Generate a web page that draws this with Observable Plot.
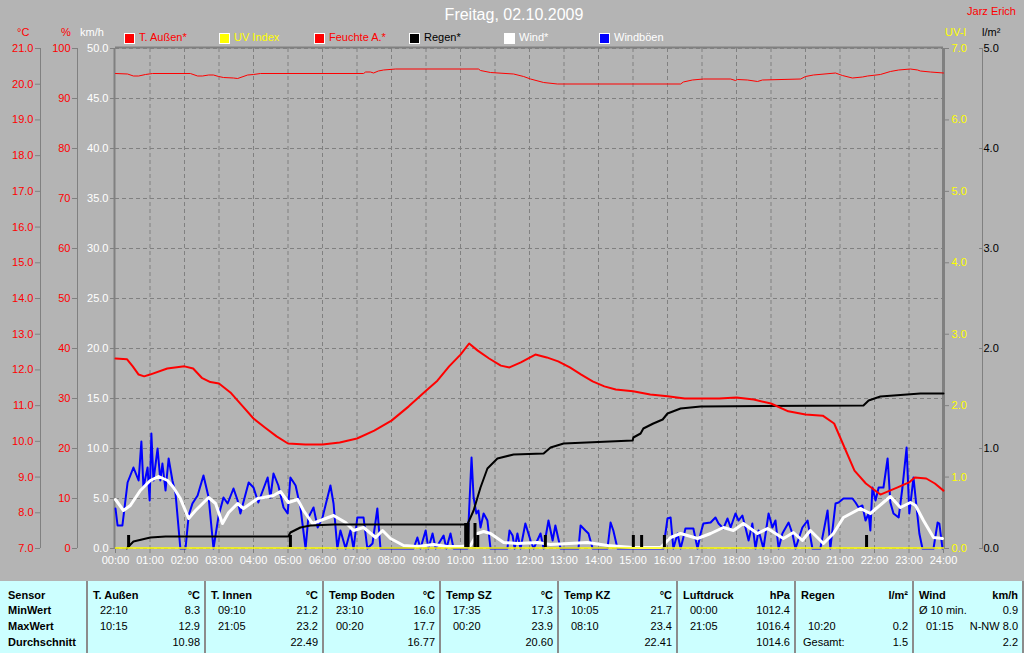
<!DOCTYPE html>
<html><head><meta charset="utf-8">
<script src="https://cdn.jsdelivr.net/npm/d3@7"></script>
<script src="https://cdn.jsdelivr.net/npm/@observablehq/plot@0.6"></script>
<style>
body{margin:0;background:#b4b4b4;font-family:"Liberation Sans",Arial,sans-serif;font-size:11px;}
#wrap{position:relative;width:1024px;height:653px;overflow:hidden;background:#b4b4b4;}
#chart{position:absolute;left:0;top:0;}
.abs{position:absolute;white-space:nowrap;line-height:13px;}
.sq{position:absolute;width:9px;height:9px;border:1px solid #fff;}
#table{position:absolute;left:0;top:581px;width:1024px;height:72px;background:#ccffff;}
.sep{position:absolute;top:0;width:2px;height:72px;background:#8c8c8c;}
.b{font-weight:bold;}
</style></head>
<body><div id="wrap"><div id="chart"></div><div id="table"></div></div>
<script>
// ---------- data ----------
const titleText = "Freitag, 02.10.2009";
const authorText = "Jarz Erich";
const hours = d3.range(0, 25);
const tempTicks = d3.range(7, 22);
const humTicks = d3.range(0, 101, 10);
const windTicks = d3.range(0, 51, 5);
const uvTicks = d3.range(0, 8);
const rainTicks = d3.range(0, 6);

const legendLabels = ["T. Außen*", "UV Index", "Feuchte A.*", "Regen*", "Wind*", "Windböen"];
const legendColors = ["#ff0000", "#ffff00", "#ff0000", "#000000", "#ffffff", "#0000ff"];
const legendTextColors = ["#ff0000", "#ffff00", "#ff0000", "#000000", "#ffffff", "#ffffff"];

// [hour, °C]
const tempOut = [[0,12.32],[0.33,12.30],[0.5,12.10],[0.67,11.87],[0.83,11.82],[1,11.87],[1.5,12.04],[2,12.10],[2.25,12.04],[2.5,11.78],[2.75,11.66],[3,11.62],[3.33,11.37],[3.67,11.00],[4,10.64],[4.33,10.39],[4.67,10.14],[5,9.94],[5.5,9.91],[6,9.91],[6.5,9.97],[7,10.08],[7.5,10.30],[8,10.58],[8.5,10.98],[9,11.42],[9.33,11.70],[9.67,12.10],[10,12.43],[10.25,12.74],[10.5,12.54],[10.83,12.32],[11.17,12.12],[11.42,12.07],[11.75,12.21],[12.17,12.43],[12.5,12.35],[12.83,12.24],[13.17,12.07],[13.5,11.87],[13.83,11.68],[14.17,11.54],[14.5,11.45],[15,11.40],[15.5,11.31],[16,11.26],[16.5,11.20],[17,11.20],[17.5,11.20],[18,11.23],[18.5,11.17],[19,11.06],[19.5,10.84],[20,10.75],[20.5,10.72],[20.83,10.50],[21.08,9.94],[21.42,9.18],[21.75,8.82],[22.17,8.51],[22.67,8.71],[23,8.85],[23.17,8.99],[23.5,8.96],[23.75,8.82],[24,8.62]];

// [hour, %]
const humidity = [[0,95.0],[0.35,94.9],[0.52,94.5],[0.67,94.5],[0.87,94.8],[1.07,95.0],[2.17,95.0],[2.38,94.5],[2.52,94.5],[2.70,94.7],[2.84,94.7],[2.99,94.4],[3.13,94.2],[3.42,94.1],[3.54,94.0],[3.83,94.7],[4.0,94.8],[4.2,95.0],[7.19,95.0],[7.25,95.3],[7.39,95.3],[7.48,95.1],[7.62,95.5],[7.77,95.7],[8.12,95.9],[10.52,95.9],[10.58,95.6],[10.87,95.2],[11.54,94.9],[11.83,94.4],[12.03,93.9],[12.41,93.2],[12.81,92.9],[16.38,92.9],[16.46,93.3],[16.72,93.7],[17.04,93.9],[17.83,93.9],[17.97,93.6],[18.03,93.8],[18.32,93.7],[18.61,93.4],[18.75,93.7],[19.86,93.9],[20.0,94.4],[20.23,94.7],[20.87,95.1],[21.07,94.6],[21.36,94.1],[21.65,94.3],[21.80,94.5],[22.17,94.8],[22.46,95.4],[22.70,95.7],[23.04,95.9],[23.25,95.7],[23.33,95.5],[23.62,95.3],[24,95.1]];

// [hour, l/m² cumulative]
const rainSum = [[0.33,0],[0.35,0.01],[0.52,0.07],[1.01,0.11],[1.45,0.12],[5.01,0.12],[5.07,0.16],[5.36,0.21],[5.65,0.23],[6.32,0.24],[10.20,0.24],[10.38,0.38],[10.58,0.61],[10.78,0.80],[11.07,0.90],[11.54,0.94],[12.41,0.95],[12.61,1.01],[12.99,1.05],[14.99,1.08],[15.01,1.11],[15.22,1.15],[15.30,1.20],[15.59,1.25],[15.86,1.29],[16.0,1.35],[16.38,1.40],[16.96,1.42],[21.68,1.43],[21.83,1.48],[22.17,1.52],[23.33,1.55],[24,1.55]];

// [hour, l/m² per interval]
const rainBars = [[0.38,0.12],[5.07,0.12],[10.15,0.24],[10.22,0.24],[10.42,0.24],[10.50,0.12],[12.46,0.12],[15.01,0.12],[15.25,0.12],[15.91,0.12],[21.77,0.12]];

// [hour, UV index]
const uvIndex = [[0,0],[24,0]];

// [hour, km/h] average wind
const wind = [[0,4.9],[0.23,3.8],[0.43,4.3],[0.72,5.8],[1.01,6.8],[1.25,7.2],[1.51,6.8],[1.68,6.1],[1.88,5.0],[2.12,3.0],[2.32,3.8],[2.70,5.1],[2.90,4.5],[3.10,2.5],[3.28,3.6],[3.54,4.5],[3.71,4.0],[4.12,5.0],[4.29,5.1],[4.58,5.3],[4.78,5.7],[5.01,4.6],[5.28,4.9],[5.45,3.8],[5.71,2.5],[5.94,2.8],[6.32,3.3],[6.67,2.6],[6.90,1.8],[7.19,2.1],[7.54,1.1],[7.74,1.8],[7.97,1.0],[8.35,0.3],[8.75,0.2],[9.22,0.4],[9.62,0.2],[10.00,0.2],[10.29,0.3],[10.49,1.5],[10.67,1.7],[10.87,1.5],[11.25,0.6],[11.65,0.5],[12.23,0.6],[12.61,0.4],[13.68,0.6],[14.26,0.3],[15.01,0.1],[15.80,0.1],[16.09,1.1],[16.38,1.5],[16.87,1.0],[17.25,1.5],[17.62,2.1],[17.91,1.8],[18.20,2.5],[18.61,1.5],[18.90,2.0],[19.36,1.0],[19.65,1.6],[19.91,0.8],[20.14,1.8],[20.52,0.5],[20.81,1.5],[21.10,3.1],[21.59,4.0],[21.88,3.5],[22.46,5.2],[22.75,4.1],[23.04,4.6],[23.19,4.3],[23.42,2.8],[23.71,1.1],[23.97,1.0]];

// [hour, km/h] gusts
const gusts = [[0,4.0],[0.06,2.3],[0.20,2.3],[0.35,6.6],[0.52,8.1],[0.67,6.8],[0.75,10.7],[0.81,6.1],[0.93,8.1],[0.99,4.8],[1.04,11.5],[1.10,6.8],[1.22,10.0],[1.30,6.8],[1.36,8.5],[1.45,5.8],[1.54,9.0],[1.65,6.8],[1.74,5.5],[1.88,0],[2.03,0],[2.12,3.3],[2.23,4.5],[2.38,5.3],[2.55,7.3],[2.70,5.1],[2.84,0],[2.99,3.3],[3.13,5.1],[3.25,4.5],[3.42,6.0],[3.54,4.8],[3.62,3.5],[3.86,6.6],[4.00,6.1],[4.14,4.6],[4.41,7.1],[4.49,5.1],[4.58,7.5],[4.72,6.3],[4.87,4.1],[4.99,3.5],[5.07,7.1],[5.22,6.3],[5.36,4.1],[5.51,0],[5.59,3.1],[5.74,4.1],[5.86,2.1],[6.00,3.1],[6.23,6.3],[6.32,4.5],[6.43,0],[6.52,1.8],[6.67,0],[6.81,1.8],[6.90,0],[7.01,3.1],[7.19,3.1],[7.30,0],[7.45,0.5],[7.59,4.0],[7.68,0],[8.64,0],[8.75,1.1],[8.84,0],[8.99,1.8],[9.07,0],[9.19,1.5],[9.28,0],[9.51,1.3],[9.59,0],[9.71,1.5],[9.80,0],[10.20,0],[10.32,9.1],[10.38,5.1],[10.46,3.5],[10.52,3.8],[10.58,2.1],[10.67,3.5],[10.78,2.8],[10.87,0],[11.36,0],[11.42,1.8],[11.51,1.3],[11.57,0],[11.65,1.5],[11.74,0],[11.88,2.5],[12.03,0.8],[12.12,0],[12.32,1.5],[12.41,0],[12.55,2.8],[12.67,0.8],[12.75,2.3],[12.90,0],[13.42,0],[13.48,2.3],[13.62,1.8],[13.71,1.5],[13.83,0],[14.26,0],[14.35,2.6],[14.43,1.8],[14.55,0],[15.88,0],[16.00,3.0],[16.09,3.1],[16.17,0],[16.29,1.5],[16.38,0],[16.46,1.1],[16.52,2.0],[16.75,2.0],[16.87,0],[16.96,1.5],[17.04,2.5],[17.25,2.6],[17.39,3.1],[17.48,2.5],[17.62,2.0],[17.74,3.0],[17.83,2.1],[17.97,3.5],[18.06,2.8],[18.17,3.3],[18.26,2.1],[18.35,0.8],[18.46,2.5],[18.55,0],[18.64,1.8],[18.78,0],[18.93,3.5],[19.04,2.1],[19.13,2.8],[19.22,0],[19.33,1.5],[19.51,2.6],[19.62,1.5],[19.71,0],[19.91,2.1],[20.06,2.8],[20.20,0],[20.43,0],[20.64,3.8],[20.72,0],[20.87,4.5],[20.96,4.6],[21.10,5.0],[21.36,5.0],[21.45,4.6],[21.54,4.1],[21.65,4.3],[21.74,2.8],[21.83,3.5],[21.88,1.8],[21.94,6.1],[22.03,4.8],[22.12,6.1],[22.26,6.1],[22.38,9.0],[22.46,4.6],[22.55,3.5],[22.70,3.1],[22.81,6.1],[22.93,10.1],[23.01,3.5],[23.13,7.1],[23.22,4.1],[23.30,1.5],[23.39,0],[23.71,0],[23.83,2.6],[23.88,2.5],[23.97,0]];

// table
const rowLabels = ["Sensor", "MinWert", "MaxWert", "Durchschnitt"];
const sensors = ["T. Außen","T. Innen","Temp Boden","Temp SZ","Temp KZ","Luftdruck","Regen","Wind"];
const units = ["°C","°C","°C","°C","°C","hPa","l/m²","km/h"];
const minTimes = ["22:10","09:10","23:10","17:35","10:05","00:00","","Ø 10 min."];
const minValues = ["8.3","21.2","16.0","17.3","21.7","1012.4","","0.9"];
const maxTimes = ["10:15","21:05","00:20","00:20","08:10","21:05","10:20","01:15"];
const maxValues = ["12.9","23.2","17.7","23.9","23.4","1016.4","0.2","N-NW 8.0"];
const avgLabels = ["","","","","","","Gesamt:",""];
const avgValues = ["10.98","22.49","16.77","20.60","22.41","1014.6","1.5","2.2"];

// ---------- scale conversions into the shared km/h axis ----------
const fromC = c => (c - 7) * 50 / 14, toC = v => v * 14 / 50 + 7;
const fromPct = p => p / 2, toPct = v => v * 2;
const fromUV = u => u * 50 / 7, toUV = v => v * 7 / 50;
const fromRain = r => r * 10, toRain = v => v / 10;

const gray = "#808080";
const grid = {stroke: gray, strokeOpacity: 1, strokeDasharray: "4,3"};

const chart = Plot.plot({
  width: 1024, height: 580,
  marginLeft: 115, marginRight: 81, marginTop: 48, marginBottom: 32,
  x: {domain: [0, 24], axis: null},
  y: {domain: [0, 50], axis: null},
  style: {background: "transparent", fontFamily: "'Liberation Sans', Arial, sans-serif", fontSize: "11px", overflow: "visible"},
  marks: [
    Plot.gridY(windTicks, grid),
    Plot.gridX(hours.slice(1, 24), grid),
    // frame
    Plot.ruleY([50], {stroke: gray, strokeWidth: 2, dy: -1}),
    Plot.ruleX([0], {stroke: gray, strokeWidth: 2, dx: -1}),
    Plot.ruleX([24], {stroke: gray, strokeWidth: 3}),
    // extra axis lines
    Plot.ruleX([0], {stroke: gray, dx: -75}),
    Plot.ruleX([0], {stroke: gray, dx: -38}),
    Plot.ruleX([24], {stroke: gray, dx: 39}),
    // axes
    Plot.axisY(tempTicks.map(fromC), {anchor: "left", dx: -75, tickSize: 5, tickPadding: 2, stroke: gray, fill: "#ff0000", tickFormat: d => toC(d).toFixed(1), label: null}),
    Plot.axisY(humTicks.map(fromPct), {anchor: "left", dx: -38, tickSize: 5, tickPadding: 2, stroke: gray, fill: "#ff0000", tickFormat: d => String(Math.round(toPct(d))), label: null}),
    Plot.axisY(windTicks, {anchor: "left", tickSize: 5, tickPadding: 2, stroke: gray, fill: "#ffffff", tickFormat: d => d.toFixed(1), label: null}),
    Plot.axisY(uvTicks.map(fromUV), {anchor: "right", tickSize: 5, tickPadding: 3, stroke: gray, fill: "#ffff00", tickFormat: d => toUV(d).toFixed(1), label: null}),
    Plot.axisY(rainTicks.map(fromRain), {anchor: "right", dx: 35, tickSize: 4, tickPadding: 1, stroke: gray, fill: "#000000", tickFormat: d => toRain(d).toFixed(1), label: null}),
    Plot.axisX(hours, {anchor: "bottom", tickSize: 5, tickPadding: 3, stroke: gray, fill: "#ffffff", tickFormat: h => String(h).padStart(2, "0") + ":00", label: null}),
    // series
    Plot.line(gusts, {x: d => d[0], y: d => d[1], stroke: "#0000ff", strokeWidth: 2}),
    Plot.line(wind, {x: d => d[0], y: d => d[1], stroke: "#ffffff", strokeWidth: 3}),
    Plot.ruleX(rainBars, {x: d => d[0], y1: 0, y2: d => fromRain(d[1]), stroke: "#000000", strokeWidth: 3, dy: -1}),
    Plot.line(rainSum, {x: d => d[0], y: d => fromRain(d[1]), stroke: "#000000", strokeWidth: 2}),
    Plot.line(humidity, {x: d => d[0], y: d => fromPct(d[1]), stroke: "#ff0000", strokeWidth: 1}),
    Plot.line(tempOut, {x: d => d[0], y: d => fromC(d[1]), stroke: "#ff0000", strokeWidth: 2}),
    Plot.line(uvIndex, {x: d => d[0], y: d => fromUV(d[1]), stroke: "#ffff00", strokeWidth: 1.5, dy: -0.5})
  ]
});
document.getElementById("chart").appendChild(chart);

// ---------- text overlays ----------
const wrap = document.getElementById("wrap");
function addText(txt, css, cls) {
  const el = document.createElement("div");
  el.className = "abs" + (cls ? " " + cls : "");
  el.textContent = txt;
  Object.assign(el.style, css);
  wrap.appendChild(el);
  return el;
}
addText(titleText, {left: "0px", width: "1028px", textAlign: "center", top: "6px", fontSize: "16px", lineHeight: "18px", color: "#ffffff"});
addText(authorText, {right: "8px", top: "5px", color: "#ff0000"});
addText("°C", {left: "17px", top: "26px", color: "#ff0000"});
addText("%", {left: "61px", top: "26px", color: "#ff0000"});
addText("km/h", {left: "80px", top: "26px", color: "#ffffff"});
addText("UV-I", {left: "945px", top: "26px", color: "#ffff00"});
addText("l/m²", {left: "982px", top: "26px", color: "#000000"});

legendLabels.forEach((lab, i) => {
  const x = 124 + i * 95;
  const sq = document.createElement("div");
  sq.className = "sq";
  Object.assign(sq.style, {left: x + "px", top: "33px", background: legendColors[i]});
  wrap.appendChild(sq);
  addText(lab, {left: (x + 15) + "px", top: "31px", color: legendTextColors[i]});
});

// ---------- table ----------
const table = document.getElementById("table");
const seps = [87, 205, 323, 440, 558, 677, 795, 913, 1023];
const rowTops = [8, 23, 39, 55];
function cell(txt, css, bold) {
  const el = document.createElement("div");
  el.className = "abs" + (bold ? " b" : "");
  el.textContent = txt;
  el.style.color = "#000";
  Object.assign(el.style, css);
  table.appendChild(el);
}
seps.forEach(s => {
  const d = document.createElement("div");
  d.className = "sep";
  d.style.left = (s - 1) + "px";
  table.appendChild(d);
});
rowLabels.forEach((l, r) => cell(l, {left: "8px", top: rowTops[r] + "px"}, true));
sensors.forEach((s, i) => {
  const L = seps[i], R = 1024 - (seps[i + 1] - 5);
  cell(s, {left: (L + 6) + "px", top: rowTops[0] + "px"}, true);
  cell(units[i], {right: R + "px", top: rowTops[0] + "px"}, true);
  cell(minTimes[i], {left: (L + (i === 7 ? 6 : 13)) + "px", top: rowTops[1] + "px"});
  cell(minValues[i], {right: R + "px", top: rowTops[1] + "px"});
  cell(maxTimes[i], {left: (L + 13) + "px", top: rowTops[2] + "px"});
  cell(maxValues[i], {right: R + "px", top: rowTops[2] + "px"});
  cell(avgLabels[i], {left: (L + 8) + "px", top: rowTops[3] + "px"});
  cell(avgValues[i], {right: R + "px", top: rowTops[3] + "px"});
});
</script>
</body></html>
